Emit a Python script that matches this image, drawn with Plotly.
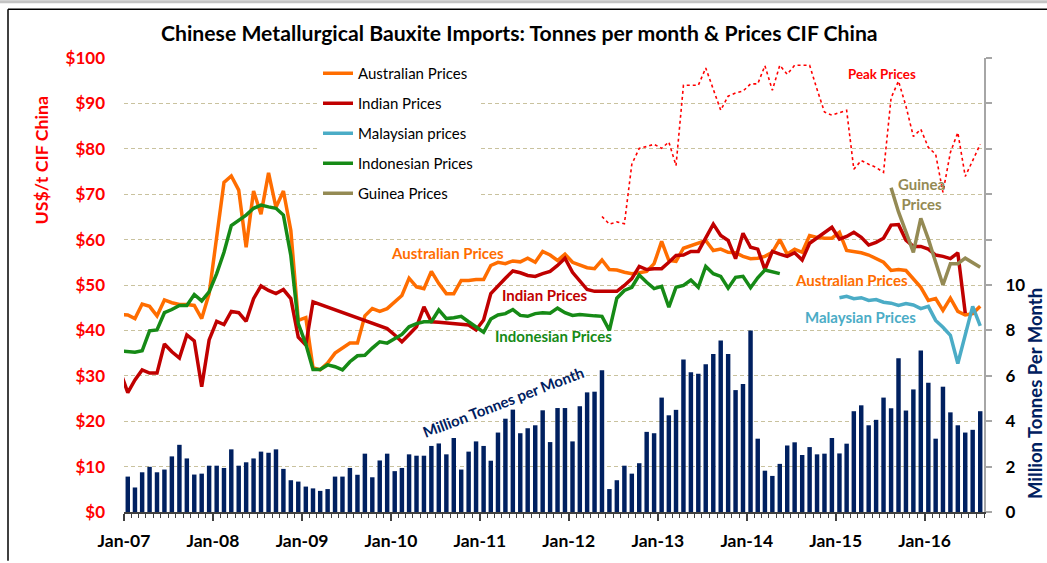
import pandas as pd
import plotly.graph_objects as go

# ---------------- data ----------------
months = pd.date_range("2006-12-01", "2016-08-01", freq="MS").strftime("%Y-%m-%d").tolist()
N = None

# Million tonnes per month, Jan-07 .. Aug-16
imports_mt = [
    1.56, 1.08, 1.75, 1.99, 1.75, 1.87, 2.45, 2.96, 2.36, 1.65, 1.69, 2.04,   # 2007
    2.04, 1.94, 2.76, 2.04, 2.19, 2.36, 2.66, 2.61, 2.76, 1.90, 1.40, 1.34,   # 2008
    1.12, 1.04, 0.93, 1.01, 1.56, 1.56, 1.94, 1.64, 2.57, 1.53, 2.27, 2.57,   # 2009
    1.80, 1.94, 2.54, 2.48, 2.48, 2.91, 3.02, 2.54, 3.26, 1.87, 2.66, 3.11,   # 2010
    2.91, 2.26, 3.50, 4.11, 4.51, 3.47, 3.69, 3.82, 4.48, 3.08, 4.58, 4.58,   # 2011
    3.11, 4.66, 5.27, 5.30, 6.25, 1.01, 1.40, 2.04, 1.69, 2.15, 3.53, 3.47,   # 2012
    5.04, 4.26, 4.50, 6.72, 6.16, 6.09, 6.51, 6.96, 7.56, 6.96, 5.37, 5.64,   # 2013
    8.00, 3.23, 1.82, 1.59, 2.12, 2.93, 3.07, 2.51, 2.86, 2.54, 2.57, 3.26,   # 2014
    2.58, 3.01, 4.44, 4.70, 3.82, 4.06, 5.04, 4.57, 6.77, 4.47, 5.40, 7.11,   # 2015
    5.69, 3.23, 5.52, 4.39, 3.82, 3.50, 3.62, 4.44,                           # 2016
]

# US$/t CIF China, Dec-06 .. Aug-16
australian = [
    43.5,
    43.4, 42.6, 45.8, 45.3, 43.2, 46.7, 46.1, 45.7, 45.7, 45.5, 42.6, 48.1,
    60.9, 72.6, 74.0, 70.9, 58.3, 70.7, 65.6, 74.7, 67.1, 70.7, 62.0, 42.2,
    42.8, 31.8, 31.3, 32.8, 35.0, 36.1, 37.2, 37.2, 43.2, 44.8, 44.2, 44.8,
    46.3, 47.7, 51.5, 49.6, 49.2, 53.0, 50.3, 48.1, 48.1, 51.0, 51.0, 51.2,
    51.2, 54.3, 55.0, 54.7, 55.3, 55.1, 55.9, 55.0, 57.4, 56.6, 55.4, 56.8,
    55.0, 54.5, 53.8, 53.6, 55.5, 53.4, 53.3, 52.8, 52.5, 52.7, 53.0, 54.7,
    59.6, 55.4, 55.2, 58.1, 58.7, 59.4, 59.8, 57.6, 57.9, 57.2, 57.1, 56.3,
    55.8, 55.9, 56.3, 57.2, 60.0, 56.8, 57.9, 57.2, 60.9, 60.5, 60.3, 60.3,
    61.6, 57.6, 57.4, 57.1, 56.6, 55.8, 55.0, 53.2, 53.4, 53.2, 51.4, 49.5,
    46.6, 47.0, 44.4, 47.1, 44.2, 43.4, 43.7, 45.3,
]

indian = [
    31.0,
    26.3, 29.1, 31.3, 30.6, 30.6, 37.0, 35.3, 33.9, 39.0, 37.7, 27.6, 37.9,
    42.0, 41.3, 44.2, 43.9, 42.0, 47.0, 49.8, 48.8, 48.1, 49.0, 47.0, 38.5,
    36.8, 46.3, N, N, N, N, N, N, N, N, N, 40.4,
    39.0, 37.5, 39.1, 40.8, 45.2, 41.9, 41.8, 41.6, 41.5, 41.3, 41.2, 40.1,
    42.3, 48.1, 49.9, 51.5, 53.1, 52.7, 52.1, 51.9, 52.5, 53.0, 54.3, 55.9,
    52.8, 50.8, 49.0, 48.6, 48.6, 48.6, 48.6, 49.9, 51.4, 54.1, 53.4, 53.6,
    53.6, 55.0, 56.5, 56.6, 57.4, 57.4, 60.5, 63.4, 60.9, 59.8, 55.8, 61.4,
    58.3, 57.9, 53.4, 57.4, 56.8, 56.3, 57.1, 55.5, 59.2, 60.3, 61.4, 62.7,
    60.1, 60.7, 61.6, 60.5, 58.8, 59.4, 60.3, 63.2, 63.3, 59.9, 58.5, 58.5,
    57.9, 56.6, 56.3, 55.8, 57.1, 43.8, N, N,
]

indonesian = [
    35.5,
    35.3, 35.2, 35.5, 39.9, 40.1, 43.9, 44.6, 45.5, 45.5, 47.9, 46.5, 48.5,
    52.5, 57.2, 63.1, 64.2, 65.4, 66.9, 67.6, 67.2, 66.9, 65.4, 56.5, 41.5,
    37.0, 31.4, 31.4, 32.4, 32.0, 31.3, 33.1, 34.4, 34.5, 36.1, 37.5, 37.2,
    38.2, 39.1, 40.8, 41.5, 41.9, 41.9, 44.5, 42.6, 42.8, 43.1, 41.9, 40.8,
    39.6, 42.5, 43.4, 43.7, 44.6, 43.3, 43.1, 43.7, 43.9, 43.8, 44.9, 43.9,
    43.3, 43.5, 43.3, 43.2, 43.1, 40.0, 47.1, 48.8, 49.5, 52.2, 50.6, 49.2,
    49.7, 45.1, 49.5, 49.9, 51.1, 49.5, 54.1, 52.5, 51.9, 49.3, 51.7, 51.9,
    49.4, 51.6, 53.3, 52.8, 52.5, N, N, N, N, N, N, N,
    N, N, N, N, N, N, N, N, N, N, N, N,
    N, N, N, N, N, N, N, N,
]

malaysian = [N] * 97 + [
    47.2, 47.5, 47.0, 47.2, 46.6, 46.8, 46.2, 46.0, 45.5, 45.9, 45.6, 44.8,
    45.3, 42.2, 40.7, 38.9, 32.7, 38.9, 45.3, 41.0,
]

guinea = [N] * 104 + [
    71.4, 66.1, 61.7, 57.2, 64.7,
    60.1, 55.0, 50.0, 54.7, 54.7, 55.9, 55.0, 53.9,
]

peak = [N] * 65 + [
    65.1, 63.4, 63.9, 63.5, 76.6, 80.1, 80.5, 81.0,
    80.1, 81.5, 76.3, 94.0, 94.0, 94.0, 97.8, 93.1, 88.5, 91.6, 92.3, 92.7,
    94.3, 94.3, 98.3, 92.9, 98.4, 96.4, 98.4, 98.4, 98.4, 93.1, 88.1, 87.4,
    88.0, 88.5, 75.5, 77.4, 76.6, 75.9, 74.8, 91.2, 94.9, 89.4, 82.7, 84.3,
    80.3, 78.8, 70.4, 79.2, 83.6, 73.9, 77.4, 81.0,
]

price_ticks = list(range(0, 101, 10))
price_labels = ["$" + str(v) for v in price_ticks]
tonne_ticks = list(range(0, 21, 2))
tonne_labels = [str(v) if v <= 10 else "" for v in tonne_ticks]

# ---------------- styling ----------------
FONT = "Lato"
ORANGE = "#FF6D00"
RED = "#C00000"
BLUE = "#4BACC6"
GREEN = "#168A16"
KHAKI = "#948A54"
NAVY = "#002060"
GRID = "#C9C29E"

# plot area in pixels: x 124..984, y 58..514
def px(x):
    return (x - 124) / 860.0

def py(y):
    return (514 - y) / 456.0

fig = go.Figure()

fig.add_trace(go.Bar(
    x=months[1:], y=imports_mt, yaxis="y", marker_color=NAVY, marker_line_width=0,
    xperiod="M1", xperiodalignment="middle", showlegend=False, name="Million Tonnes per Month",
))

fig.add_trace(go.Scatter(
    x=months, y=peak, yaxis="y2", mode="lines", name="Peak Prices",
    line=dict(color="#FF0000", width=1.6, dash="dot"),
    xperiod="M1", xperiodalignment="middle", showlegend=False,
))

series = [
    ("Australian Prices", australian, ORANGE),
    ("Indian Prices", indian, RED),
    ("Malaysian prices", malaysian, BLUE),
    ("Indonesian Prices", indonesian, GREEN),
    ("Guinea Prices", guinea, KHAKI),
]
for name, vals, col in series:
    fig.add_trace(go.Scatter(
        x=months, y=vals, yaxis="y2", mode="lines", name=name, legendgroup=name,
        line=dict(color=col, width=3.5), connectgaps=True,
        xperiod="M1", xperiodalignment="middle",
    ))

def ann(text, x, y, color, size, angle=0):
    return dict(text=text, x=px(x), y=py(y), xref="paper", yref="paper",
                showarrow=False, textangle=angle, xanchor="center", yanchor="middle",
                borderpad=0,
                font=dict(family=FONT, size=size, color=color, weight="bold"))

annotations = [
    ann("Chinese Metallurgical Bauxite Imports: Tonnes per month &amp; Prices CIF China", 519, 33, "#000000", 21.2),
    ann("Peak Prices", 882, 74.5, "#FF0000", 13.3),
    ann("Guinea<br>Prices", 921, 195, KHAKI, 15),
    ann("Australian Prices", 447.5, 254, ORANGE, 15),
    ann("Indian Prices", 545, 296.5, RED, 15),
    ann("Indonesian Prices", 553, 337.5, GREEN, 15),
    ann("Australian Prices", 851.5, 281, ORANGE, 15),
    ann("Malaysian Prices", 860, 318, BLUE, 15),
    ann("Million Tonnes per Month", 503, 404, NAVY, 15, -21),
    ann("US$/t CIF China", 41, 161, "#FF0000", 17.8, -90),
    ann("Million Tonnes Per Month", 1034.5, 395, NAVY, 18.5, -90),
]

shapes = [
    dict(type="rect", xref="paper", yref="paper", x0=px(0), x1=px(1047), y0=py(0), y1=py(3),
         fillcolor="#C4C4C4", line_width=0, layer="above"),
    dict(type="line", xref="paper", yref="paper", x0=px(8), x1=px(1047), y0=py(9), y1=py(9),
         line=dict(color="#000000", width=1.5)),
    dict(type="line", xref="paper", yref="paper", x0=px(8), x1=px(8), y0=py(9), y1=py(563),
         line=dict(color="#000000", width=1.5)),
]

fig.update_layout(
    width=1047, height=563, autosize=False,
    margin=dict(l=124, r=63, t=58, b=49, pad=0),
    paper_bgcolor="white", plot_bgcolor="white",
    font=dict(family=FONT, color="#000000"),
    bargap=0.38,
    showlegend=True,
    legend=dict(x=px(318), y=py(57), xanchor="left", yanchor="top",
                bgcolor="white", borderwidth=0, tracegroupgap=7.5,
                font=dict(family=FONT, size=15, color="#000000")),
    xaxis=dict(
        type="date", range=["2007-01-01", "2016-09-01"],
        tick0="2007-01-01", dtick="M12", tickformat="%b-%y",
        ticks="outside", ticklen=7, tickwidth=1.5, tickcolor="#404040",
        showline=True, linecolor="#404040", linewidth=1.5, showgrid=False, zeroline=False,
        tickfont=dict(family=FONT, size=17.5, color="#000000", weight="bold"),
        ticklabelstandoff=5,
        minor=dict(dtick="M1", ticks="outside", ticklen=4, tickwidth=1, tickcolor="#404040", showgrid=False),
    ),
    yaxis=dict(
        side="right", range=[0, 20], tickvals=tonne_ticks, ticktext=tonne_labels,
        showgrid=True, gridcolor=GRID, gridwidth=1, griddash="4px,3px",
        showline=True, linecolor="#A6A6A6", linewidth=2,
        ticks="outside", ticklen=6, tickwidth=1.5, tickcolor="#A6A6A6",
        zeroline=False, ticklabelstandoff=10,
        tickfont=dict(family=FONT, size=17, color="#000000", weight="bold"),
    ),
    yaxis2=dict(
        overlaying="y", side="left", range=[0, 100], tickvals=price_ticks, ticktext=price_labels,
        showgrid=False, zeroline=False, showline=False, ticks="", ticklabelstandoff=18,
        tickfont=dict(family=FONT, size=17, color="#FF0000", weight="bold"),
    ),
    annotations=annotations,
    shapes=shapes,
)

fig.write_html(
    "out.html",
    config={"displayModeBar": False},
    post_script="document.body.style.margin='0';document.body.style.overflow='hidden';",
)
